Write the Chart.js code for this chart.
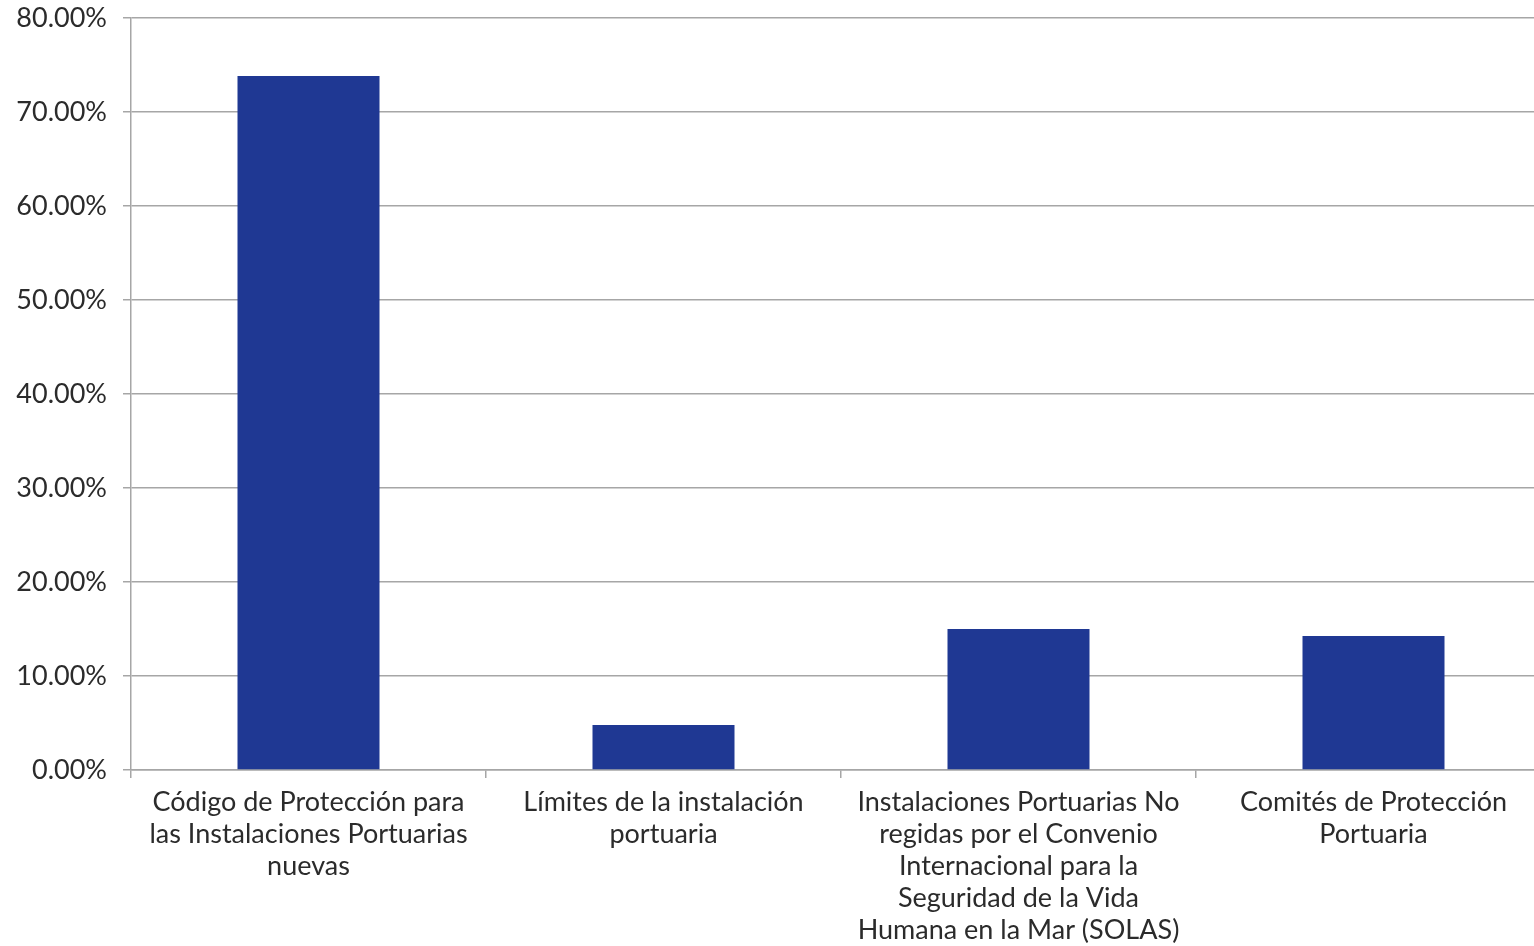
<!DOCTYPE html>
<html>
<head>
<meta charset="utf-8">
<script src="https://cdn.jsdelivr.net/npm/chart.js@4"></script>
<style>
  html, body { margin: 0; padding: 0; background: #fff; overflow: hidden; width: 1534px; height: 946px; }
  #wrap { width: 1551px; height: 946px; position: relative; }
</style>
</head>
<body>
<div id="wrap"><canvas id="barChart"></canvas></div>
<script>
// Categories (multi-line as in the original)
const categories = [
  ["Código de Protección para", "las Instalaciones Portuarias", "nuevas"],
  ["Límites de la instalación", "portuaria"],
  ["Instalaciones Portuarias No", "regidas por el Convenio", "Internacional para la", "Seguridad de la Vida", "Humana en la Mar (SOLAS)"],
  ["Comités de Protección", "Portuaria"]
];
const percentages = [73.83, 4.79, 15.0, 14.26];
const yTicks = [0, 10, 20, 30, 40, 50, 60, 70, 80];

const ctx = document.getElementById("barChart").getContext("2d");
new Chart(ctx, {
  type: "bar",
  data: {
    labels: categories,
    datasets: [
      {
        label: "Porcentaje",
        data: percentages,
        backgroundColor: "#1f3893",
        barPercentage: 0.4,
        categoryPercentage: 1.0,
      },
    ],
  },
  options: {
    responsive: true,
    maintainAspectRatio: false,
    animation: false,
    layout: { padding: 0 },
    plugins: {
      legend: { display: false },
      tooltip: { enabled: false },
    },
    scales: {
      x: {
        grid: {
          drawOnChartArea: false,
          drawTicks: true,
          tickLength: 8,
          color: "#a6a6a6",
          lineWidth: 1.5,
        },
        border: { color: "#a6a6a6", width: 1.5 },
        ticks: {
          color: "#2b2b2b",
          font: { family: "Lato", size: 27, lineHeight: 1.19 },
          maxRotation: 0,
          autoSkip: false,
          padding: 8,
        },
        afterFit: (scale) => {
          scale.height = 176;
          scale.paddingLeft = 0;
          scale.paddingRight = 0;
        },
      },
      y: {
        min: 0,
        max: 80,
        afterBuildTicks: (scale) => {
          scale.ticks = yTicks.map((v) => ({ value: v }));
        },
        grid: {
          color: "#a6a6a6",
          lineWidth: 1.5,
          tickLength: 8,
        },
        border: { color: "#a6a6a6", width: 1.5 },
        ticks: {
          color: "#2b2b2b",
          font: { family: "Lato", size: 27 },
          padding: 16,
          callback: (v) => Number(v).toFixed(2) + "%",
        },
        afterFit: (scale) => {
          scale.width = 131;
          scale.paddingTop = 18;
          scale.paddingBottom = 0;
        },
      },
    },
  },
});
</script>
</body>
</html>
